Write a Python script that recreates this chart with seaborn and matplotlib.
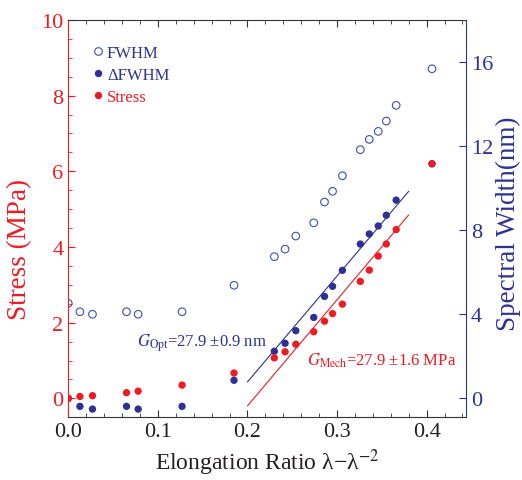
from matplotlib import pyplot as plt
from matplotlib.lines import Line2D
from matplotlib.ticker import MultipleLocator
import pandas as pd
import seaborn as sns

# values
elong = [0.0, 0.013, 0.027, 0.065, 0.078, 0.127, 0.185, 0.230, 0.242, 0.254,
         0.274, 0.286, 0.295, 0.306, 0.326, 0.336, 0.346, 0.355, 0.366, 0.406]
stress = [0.0, 0.05, 0.07, 0.15, 0.19, 0.35, 0.67, 1.07, 1.23, 1.43,
          1.76, 2.04, 2.24, 2.49, 3.09, 3.39, 3.76, 4.08, 4.46, 6.20]
fwhm = [4.52, 4.12, 4.00, 4.12, 4.00, 4.12, 5.38, 6.74, 7.10, 7.72,
        8.35, 9.34, 9.85, 10.59, 11.83, 12.32, 12.70, 13.19, 13.94, 15.68]
dfwhm = [0.0, -0.38, -0.51, -0.38, -0.51, -0.38, 0.86, 2.24, 2.62, 3.22,
         3.85, 4.85, 5.33, 6.09, 7.34, 7.82, 8.20, 8.71, 9.43, 11.16]

# linear fits drawn over 0.2 .. 0.38
fit_x = [0.20, 0.38]
stress_fit = [-0.20, 4.85]
width_fit = [0.78, 9.85]

RED = '#ED1C24'
BLUE = '#2E3192'
OPEN_BLUE = '#3F4FAE'


def main() -> None:
    sns.set_style('ticks')
    plt.rcParams['font.family'] = ['Liberation Serif', 'DejaVu Serif']
    plt.rcParams['mathtext.fontset'] = 'stix'

    data = pd.DataFrame({'x': elong, 'stress': stress, 'fwhm': fwhm, 'dfwhm': dfwhm})

    fig = plt.figure(figsize=(5.22, 4.81), dpi=100)
    ax1 = fig.add_axes([0.1308, 0.1304, 0.762, 0.826])
    ax2 = ax1.twinx()

    sns.scatterplot(data=data, x='x', y='fwhm', ax=ax2, marker='o', s=30,
                    facecolors='none', edgecolor=OPEN_BLUE, linewidth=0.8)
    sns.scatterplot(data=data, x='x', y='dfwhm', ax=ax2, marker='o', s=28,
                    color=BLUE, edgecolor='none')
    sns.lineplot(x=fit_x, y=width_fit, ax=ax2, color=BLUE, linewidth=0.8)

    sns.scatterplot(data=data, x='x', y='stress', ax=ax1, marker='o', s=28,
                    color=RED, edgecolor='none')
    sns.lineplot(x=fit_x, y=stress_fit, ax=ax1, color=RED, linewidth=0.8)

    # stress on top of the width points
    ax1.set_zorder(ax2.get_zorder() + 1)
    ax1.patch.set_visible(False)

    ax1.set_xlim(0, 0.444)
    ax1.set_ylim(-0.5, 10)
    ax2.set_ylim(-0.9, 18)
    ax1.xaxis.set_major_locator(MultipleLocator(0.1))
    ax1.xaxis.set_minor_locator(MultipleLocator(0.02))
    ax1.yaxis.set_major_locator(MultipleLocator(2))
    ax1.yaxis.set_minor_locator(MultipleLocator(0.5))
    ax2.yaxis.set_major_locator(MultipleLocator(4))

    ax1.tick_params(axis='x', which='both', direction='in', top=True, colors='#333333',
                    labelcolor='#231F20', labelsize=16)
    ax1.tick_params(axis='x', which='major', length=5, width=0.8)
    ax1.tick_params(axis='x', which='minor', length=3, width=0.6)
    ax1.tick_params(axis='y', which='both', direction='in', colors=RED, labelsize=16)
    ax1.tick_params(axis='y', which='major', length=5, width=0.8)
    ax1.tick_params(axis='y', which='minor', length=3, width=0.6)
    ax2.tick_params(axis='y', which='both', direction='in', colors=BLUE, labelsize=16,
                    length=5, width=0.8)

    for side in ['top', 'bottom']:
        ax1.spines[side].set_color('#333333')
        ax1.spines[side].set_linewidth(0.8)
        ax2.spines[side].set_visible(False)
    ax1.spines['left'].set_color(RED)
    ax1.spines['right'].set_visible(False)
    ax2.spines['left'].set_visible(False)
    ax2.spines['right'].set_color(BLUE)
    ax1.spines['left'].set_linewidth(0.8)
    ax2.spines['right'].set_linewidth(0.8)

    ax1.set_xlabel('Elongation Ratio λ\u2212λ$^{-2}$', fontsize=17, color='#231F20')
    ax1.set_ylabel('Stress (MPa)', fontsize=19.5, color=RED)
    ax2.set_ylabel('Spectral Width(nm)', fontsize=19.5, color=BLUE)
    ax1.yaxis.set_label_coords(-0.09, 0.425)
    ax2.yaxis.set_label_coords(1.075, 0.49)

    ax1.text(0.077, 1.39, r'$G_{\mathrm{Opt}}$=27.9 ±0.9 nm', color=BLUE,
             fontsize=12, va='baseline')
    ax1.text(0.266, 0.89, r'$G_{\mathrm{Mech}}$=27.9 ±1.6 MPa', color=RED,
             fontsize=12, va='baseline')

    handles = [
        Line2D([], [], ls='none', marker='o', ms=5.5, mfc='none', mec=OPEN_BLUE, mew=0.8),
        Line2D([], [], ls='none', marker='o', ms=5.3, mfc=BLUE, mec='none'),
        Line2D([], [], ls='none', marker='o', ms=5.3, mfc=RED, mec='none'),
    ]
    leg = ax1.legend(handles, ['FWHM', '\u0394FWHM', 'Stress'], loc='upper left',
                     bbox_to_anchor=(0.045, 0.955), frameon=False, fontsize=12,
                     handlelength=0.6, handletextpad=0.25, labelspacing=0.38,
                     borderaxespad=0)
    for text, col in zip(leg.get_texts(), [BLUE, BLUE, RED]):
        text.set_color(col)

    fig.savefig('out.png', dpi=100)


if __name__ == '__main__':
    main()
